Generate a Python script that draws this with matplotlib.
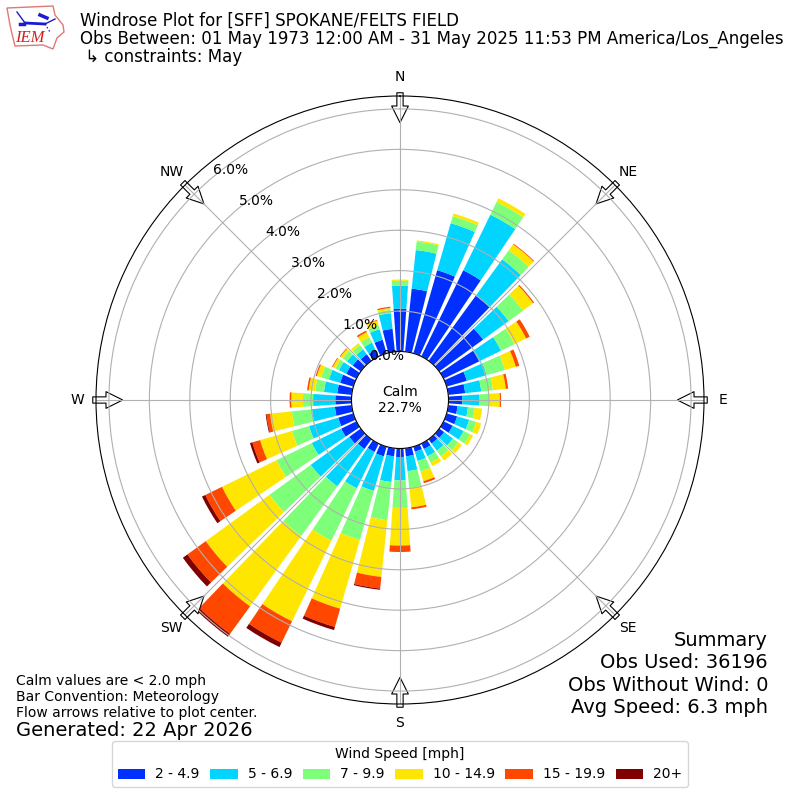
import numpy as np
import matplotlib
matplotlib.use("Agg")
import matplotlib.pyplot as plt
from matplotlib.patches import Polygon

directions = np.arange(0, 360, 10)
speed_labels = ["2 - 4.9", "5 - 6.9", "7 - 9.9", "10 - 14.9", "15 - 19.9", "20+"]
colors = ["#0030ff", "#00d4ff", "#7dff7a", "#ffe600", "#ff4700", "#800000"]

s2_5 = [1.06,1.57,2.14,2.37,1.99,1.34,.98,.52,.42,.34,.23,.27,.25,.15,.13,.15,.13,.20,
        .21,.20,.25,.23,.30,.35,.42,.39,.42,.40,.36,.34,.28,.25,.20,.18,.35,.57]
s5_7 = [.57,.96,1.21,1.53,1.11,.78,.60,.51,.40,.43,.26,.31,.30,.27,.22,.20,.24,.37,
        .58,.64,.89,1.00,1.14,1.18,.81,.75,.57,.55,.33,.29,.20,.17,.15,.20,.27,.39]
s7_10 = [.12,.21,.18,.35,.28,.44,.37,.47,.29,.25,.17,.18,.18,.16,.17,.17,.27,.42,
         .68,.95,1.26,1.44,1.52,1.26,.97,.44,.50,.25,.22,.20,.10,.13,.13,.15,.10,.08]
s10_15 = [.03,.03,.07,.10,.18,.31,.32,.28,.32,.25,.18,.13,.08,.11,.13,.10,.25,.48,
          .93,1.41,1.77,2.22,2.15,1.95,1.50,.82,.54,.29,.16,.11,.07,.07,.06,.14,.12,.05]
s15_20 = [0,0,0,0,.02,.03,.10,.09,.06,.03,0,0,0,0,0,0,.05,.05,
          .16,.29,.47,.59,.84,.56,.46,.20,.09,.04,.04,.03,.02,.02,0,.04,.02,.03]
s20 = [0,0,0,0,0,0,0,0,0,0,0,0,0,0,0,0,0,0,
       0,.03,.08,.12,.09,.14,.09,.06,.02,0,0,0,0,0,0,0,0,0]
series = [s2_5, s5_7, s7_10, s10_15, s15_20, s20]

r_ticks = [0, 1, 2, 3, 4, 5, 6]
compass = ["N", "NE", "E", "SE", "S", "SW", "W", "NW"]
compass_deg = [0, 45, 90, 135, 180, 225, 270, 315]

title_lines = "Windrose Plot for [SFF] SPOKANE/FELTS FIELD\nObs Between: 01 May 1973 12:00 AM - 31 May 2025 11:53 PM America/Los_Angeles\n \u21b3 constraints: May"
calm_text = "Calm\n22.7%"
summary = "Summary\nObs Used: 36196\nObs Without Wind: 0\nAvg Speed: 6.3 mph"
notes = "Calm values are < 2.0 mph\nBar Convention: Meteorology\nFlow arrows relative to plot center."
generated = "Generated: 22 Apr 2026"

fig = plt.figure(figsize=(8, 8), dpi=100)
ax = fig.add_axes([0.12, 0.12, 0.76, 0.76], projection="polar")
ax.set_theta_zero_location("N")
ax.set_theta_direction(-1)

theta = np.deg2rad(directions)
bottom = np.zeros(len(directions))
handles = []
for vals, col, lab in zip(series, colors, speed_labels):
    vals = np.array(vals)
    bars = ax.bar(theta, vals, width=np.deg2rad(8), bottom=bottom, color=col,
                  linewidth=0, label=lab)
    handles.append(bars)
    bottom += vals

rmax = 6.32
ax.set_rorigin(-1.2)
ax.set_rlim(0, rmax)
ax.set_yticks(r_ticks)
ax.set_yticklabels([f"{v:.1f}%" for v in r_ticks], fontsize=10)
ax.set_rlabel_position(-40)
ax.set_xticks(np.deg2rad(compass_deg))
ax.set_xticklabels(compass, fontsize=10)
ax.tick_params(axis="x", pad=3)

for d in compass_deg:
    ax.annotate("", xy=(np.deg2rad(d), 5.66), xytext=(np.deg2rad(d), 6.40),
                xycoords="data", textcoords="data", annotation_clip=False,
                arrowprops=dict(facecolor="white", edgecolor="black", linewidth=0.8,
                                width=4.5, headwidth=12, headlength=12, shrink=0),
                zorder=1.5)

ax.text(0.5, 0.5, calm_text, transform=ax.transAxes, ha="center", va="center",
        fontsize=10, zorder=7)

fig.text(80 / 800, 1 - 12 / 800, title_lines, ha="left", va="top", fontsize=12,
         linespacing=1.0)
fig.text(768 / 800, 1 - 631 / 800, summary, ha="right", va="top", fontsize=14,
         linespacing=1.22)
fig.text(16 / 800, 1 - 674 / 800, notes, ha="left", va="top", fontsize=10)
fig.text(16 / 800, 1 - 730 / 800, generated, ha="left", va="center", fontsize=14)

fig.legend(handles=handles, labels=speed_labels, title="Wind Speed [mph]", ncol=6,
           loc="lower center", bbox_to_anchor=(0.5, 6 / 800), fontsize=10, title_fontsize=10,
           columnspacing=0.76, handletextpad=0.7)

# IEM logo, hand-drawn in figure pixels
logo = fig.add_axes([0, 1 - 60 / 800, 80 / 800, 60 / 800])
logo.set_xlim(0, 80)
logo.set_ylim(60, 0)
logo.axis("off")
outline = [(7, 8), (53, 6), (55, 15), (63, 25), (64, 32), (57, 38), (53, 49), (43, 45),
           (15, 46), (13, 38), (10, 25)]
logo.add_patch(Polygon(outline, closed=True, fill=False, edgecolor="#e07878", linewidth=1))
logo.plot([25, 45], [23, 24], color="#1a1ad0", lw=2)
logo.plot([45, 55], [24, 19], color="#1a1ad0", lw=1)
logo.plot([17, 25], [12, 23], color="#1a1ad0", lw=1)
logo.plot([40, 47], [15, 18], color="#1a1ad0", lw=2.5)
logo.plot([45, 50], [24, 32], color="#1a1ad0", lw=1, ls=":")
logo.plot([20, 24], [24, 24], color="#1a1ad0", lw=2.5)
logo.text(30, 38, "IEM", color="#d42020", fontsize=12, style="italic", family="Liberation Serif",
          ha="center", va="center")

fig.savefig("out.png", dpi=100)
